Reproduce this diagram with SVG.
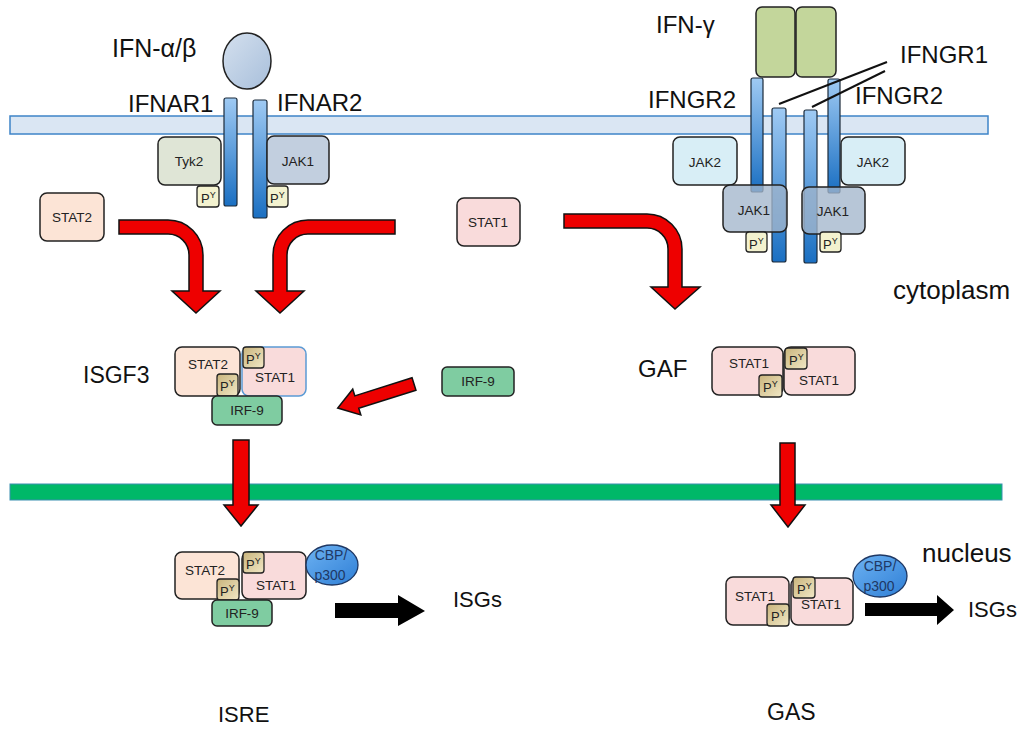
<svg xmlns="http://www.w3.org/2000/svg" width="1024" height="729" viewBox="0 0 1024 729">
<defs>
<linearGradient id="rec" x1="0" y1="0" x2="0" y2="1"><stop offset="0" stop-color="#9fcaf3"/><stop offset="1" stop-color="#1a6fc2"/></linearGradient>
<linearGradient id="ifn" x1="0" y1="0" x2="1" y2="1"><stop offset="0" stop-color="#d4e0ee"/><stop offset="1" stop-color="#a8bfdb"/></linearGradient>
<linearGradient id="py" x1="0" y1="0" x2="1" y2="1"><stop offset="0" stop-color="#c9b47c"/><stop offset="1" stop-color="#f1e8c6"/></linearGradient>
<linearGradient id="cbp" x1="0" y1="0" x2="1" y2="1"><stop offset="0" stop-color="#6db2f2"/><stop offset="1" stop-color="#2f7fd6"/></linearGradient>
<style>
.lbl{font-family:"Liberation Sans",Arial,sans-serif;fill:#111}
.sm{font-family:"Liberation Sans",Arial,sans-serif;font-size:13.5px;fill:#222;text-anchor:middle}
.box{stroke:#222;stroke-width:1.5}
.stat2{fill:#fce4d6}
.stat1{fill:#f9dbdb}
.irf{fill:#7fcca1}
.pyl{fill:#f3f2cf;stroke:#222;stroke-width:1.3}
.pyd{fill:url(#py);stroke:#222;stroke-width:1.3}
.pyt{font-family:"Liberation Sans",Arial,sans-serif;font-size:13px;fill:#222}
.rec{fill:url(#rec);stroke:#1b2a3a;stroke-width:1.2}
.red{fill:#ee0000;stroke:#111;stroke-width:1.5}
.blk{fill:#000}
.cbp{fill:url(#cbp);stroke:#1f3864;stroke-width:1.3}
.cbpt{font-family:"Liberation Sans",Arial,sans-serif;font-size:14px;fill:#1f3864;text-anchor:middle}
</style>
</defs>
<rect width="1024" height="729" fill="#ffffff"/>

<g id="membranes">
<rect x="10" y="116" width="978" height="18" fill="#dae6f3" stroke="#3e84c8" stroke-width="1.5"/>
<rect x="10" y="484" width="992" height="16" fill="#00b868" stroke="#3a8fb0" stroke-width="1"/>
</g>

<g id="ifnab">
<ellipse cx="247" cy="61" rx="24" ry="28" fill="url(#ifn)" stroke="#222" stroke-width="1.5"/>
<text class="lbl" x="112" y="57" font-size="25">IFN-α/β</text>
</g>
<g id="ifnar1">
<rect class="rec" x="224" y="98" width="13" height="108" rx="2"/>
<text class="lbl" x="128" y="112" font-size="24">IFNAR1</text>
</g>
<g id="ifnar2">
<rect class="rec" x="253" y="100" width="14" height="118" rx="2"/>
<text class="lbl" x="277" y="111" font-size="24">IFNAR2</text>
</g>
<g id="tyk2">
<rect class="box" x="158" y="137" width="63" height="48" rx="7" fill="#dfe5d6"/>
<text class="sm" x="189" y="166">Tyk2</text>
</g>
<g id="py-tyk2">
<rect class="pyl" x="197" y="186" width="22" height="21" rx="3"/>
<text class="pyt" x="201" y="203">P<tspan font-size="9" dy="-5">Y</tspan></text>
</g>
<g id="jak1-a">
<rect class="box" x="267" y="136" width="62" height="48" rx="7" fill="#c2cfdf"/>
<text class="sm" x="298" y="166">JAK1</text>
</g>
<g id="py-jak1-a">
<rect class="pyl" x="267" y="186" width="21" height="21" rx="3"/>
<text class="pyt" x="270" y="203">P<tspan font-size="9" dy="-5">Y</tspan></text>
</g>
<g id="stat2-free">
<rect class="box stat2" x="40" y="193" width="64" height="48" rx="7"/>
<text class="sm" x="72" y="222">STAT2</text>
</g>
<g id="stat1-free">
<rect class="box stat1" x="457" y="198" width="63" height="48" rx="7"/>
<text class="sm" x="488" y="227">STAT1</text>
</g>

<g id="ifng">
<rect class="box" x="756" y="7" width="39" height="70" rx="6" fill="#c3d69b"/>
<rect class="box" x="796" y="7" width="40" height="70" rx="6" fill="#c3d69b"/>
<text class="lbl" x="656" y="33" font-size="24">IFN-γ</text>
</g>
<g id="jak2-l">
<rect class="box" x="673" y="137" width="64" height="48" rx="7" fill="#d8eef6"/>
<text class="sm" x="705" y="167">JAK2</text>
</g>
<g id="jak2-r">
<rect class="box" x="841" y="137" width="64" height="48" rx="7" fill="#d8eef6"/>
<text class="sm" x="873" y="167">JAK2</text>
</g>
<g id="ifngr2-l">
<rect class="rec" x="751" y="78" width="12" height="114" rx="2"/>
<text class="lbl" x="648" y="108" font-size="24">IFNGR2</text>
</g>
<g id="ifngr1-l">
<rect class="rec" x="772" y="108" width="14" height="154" rx="2"/>
</g>
<g id="ifngr1-r">
<rect class="rec" x="804" y="110" width="13" height="153" rx="2"/>
<text class="lbl" x="900" y="63" font-size="24">IFNGR1</text>
</g>
<g id="ifngr2-r">
<rect class="rec" x="828" y="79" width="12" height="114" rx="2"/>
<text class="lbl" x="855" y="104" font-size="24">IFNGR2</text>
</g>
<g id="jak1-b">
<rect class="box" x="723" y="185" width="64" height="47" rx="7" fill="#a3b6cc" fill-opacity="0.78"/>
<text class="sm" x="754" y="215">JAK1</text>
</g>
<g id="jak1-c">
<rect class="box" x="802" y="187" width="63" height="47" rx="7" fill="#a3b6cc" fill-opacity="0.78"/>
<text class="sm" x="833" y="216">JAK1</text>
</g>
<g id="py-jak1-b">
<rect class="pyl" x="746" y="232" width="21" height="20" rx="3"/>
<text class="pyt" x="749" y="249">P<tspan font-size="9" dy="-5">Y</tspan></text>
</g>
<g id="py-jak1-c">
<rect class="pyl" x="820" y="232" width="21" height="20" rx="3"/>
<text class="pyt" x="823" y="249">P<tspan font-size="9" dy="-5">Y</tspan></text>
</g>

<g id="compartment-labels">
<text class="lbl" x="893" y="299" font-size="26">cytoplasm</text>
<text class="lbl" x="922" y="562" font-size="26">nucleus</text>
</g>

<g id="isgf3">
<text class="lbl" x="83" y="383" font-size="23">ISGF3</text>
<rect class="box stat2" x="175" y="347" width="65" height="49" rx="7"/>
<text class="sm" x="208" y="369">STAT2</text>
<rect x="242" y="347" width="64" height="49" rx="7" class="stat1" stroke="#5b9bd5" stroke-width="1.5"/>
<text class="sm" x="275" y="382">STAT1</text>
<rect class="pyd" x="243" y="347" width="21" height="21" rx="3"/>
<text class="pyt" x="246" y="364">P<tspan font-size="9" dy="-5">Y</tspan></text>
<rect class="pyd" x="217" y="374" width="21" height="22" rx="3"/>
<text class="pyt" x="220" y="391">P<tspan font-size="9" dy="-5">Y</tspan></text>
<rect class="box irf" x="212" y="396" width="70" height="29" rx="5"/>
<text class="sm" x="247" y="415">IRF-9</text>
</g>
<g id="irf9-free">
<rect class="box irf" x="442" y="367" width="72" height="29" rx="5"/>
<text class="sm" x="478" y="386">IRF-9</text>
</g>

<g id="gaf">
<text class="lbl" x="638" y="377" font-size="24">GAF</text>
<rect class="box stat1" x="712" y="347" width="71" height="48" rx="7"/>
<text class="sm" x="749" y="368">STAT1</text>
<rect class="box stat1" x="784" y="347" width="71" height="48" rx="7"/>
<text class="sm" x="819" y="385">STAT1</text>
<rect class="pyd" x="785" y="348" width="22" height="21" rx="3"/>
<text class="pyt" x="789" y="365">P<tspan font-size="9" dy="-5">Y</tspan></text>
<rect class="pyd" x="759" y="375" width="23" height="22" rx="3"/>
<text class="pyt" x="763" y="392">P<tspan font-size="9" dy="-5">Y</tspan></text>
</g>

<g id="isre-complex">
<rect class="box stat2" x="175" y="552" width="64" height="47" rx="7"/>
<text class="sm" x="205" y="575">STAT2</text>
<rect class="box stat1" x="242" y="552" width="64" height="47" rx="7"/>
<text class="sm" x="276" y="590">STAT1</text>
<rect class="pyd" x="243" y="552" width="21" height="21" rx="3"/>
<text class="pyt" x="246" y="569">P<tspan font-size="9" dy="-5">Y</tspan></text>
<rect class="pyd" x="217" y="579" width="22" height="21" rx="3"/>
<text class="pyt" x="220" y="596">P<tspan font-size="9" dy="-5">Y</tspan></text>
<rect class="box irf" x="212" y="600" width="60" height="26" rx="5"/>
<text class="sm" x="242" y="618">IRF-9</text>
<ellipse class="cbp" cx="332" cy="565" rx="26" ry="20"/>
<text class="cbpt" x="331" y="560">CBP/</text>
<text class="cbpt" x="330" y="580">p300</text>
</g>
<g id="isgs-1">
<text class="lbl" x="453" y="607" font-size="22">ISGs</text>
</g>
<g id="isre">
<text class="lbl" x="218" y="722" font-size="22">ISRE</text>
</g>

<g id="gas-complex">
<rect class="box stat1" x="726" y="577" width="63" height="48" rx="7"/>
<text class="sm" x="755" y="601">STAT1</text>
<rect class="box stat1" x="791" y="578" width="62" height="47" rx="7"/>
<text class="sm" x="821" y="609">STAT1</text>
<rect class="pyd" x="793" y="577" width="22" height="21" rx="3"/>
<text class="pyt" x="797" y="594">P<tspan font-size="9" dy="-5">Y</tspan></text>
<rect class="pyd" x="767" y="604" width="22" height="22" rx="3"/>
<text class="pyt" x="771" y="621">P<tspan font-size="9" dy="-5">Y</tspan></text>
<ellipse class="cbp" cx="880" cy="576" rx="27" ry="21"/>
<text class="cbpt" x="880" y="571">CBP/</text>
<text class="cbpt" x="879" y="591">p300</text>
</g>
<g id="isgs-2">
<text class="lbl" x="968" y="617" font-size="22">ISGs</text>
</g>
<g id="gas">
<text class="lbl" x="767" y="720" font-size="23">GAS</text>
</g>

<g id="connectors">
<path class="red" d="M119,220 H168 A35,35 0 0 1 203,255 V291 H220 L196,313 L172,291 H189 V255 A21,21 0 0 0 168,234 H119 Z"/>
<path class="red" d="M395,220 H308 A35,35 0 0 0 273,255 V291 H256 L280,313 L304,291 H287 V255 A21,21 0 0 1 308,234 H395 Z"/>
<path class="red" d="M564,214 H647 A35,35 0 0 1 682,249 V287 H700 L675,309 L651,287 H668 V249 A21,21 0 0 0 647,228 H564 Z"/>
<path class="red" transform="translate(414,384) rotate(162.5)" d="M0,-6.5 H60 V-13.5 L80,0 L60,13.5 V6.5 H0 Z"/>
<path class="red" d="M233,440 H249 V505 H258 L241,526 L224,505 H233 Z"/>
<path class="red" d="M780,443 H795 V505 H805 L788,527 L771,505 H780 Z"/>
<path class="blk" d="M335,603 H398 V595 L425,611 L398,626 V618 H335 Z"/>
<path class="blk" d="M865,603 H937 V595 L954,610 L937,625 V616 H865 Z"/>
<line x1="779" y1="104" x2="887" y2="62" stroke="#111" stroke-width="2"/>
<line x1="812" y1="107" x2="885" y2="71" stroke="#111" stroke-width="2"/>
</g>
</svg>
